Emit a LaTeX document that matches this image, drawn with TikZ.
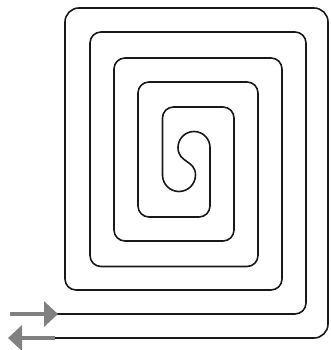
\documentclass[tikz,border=0pt]{standalone}
\usetikzlibrary{arrows.meta}
\definecolor{flowgray}{RGB}{128,128,128}
\tikzset{
  pipe/.style={line width=1.6pt, black!90, line cap=round, line join=round},
  flowarrow/.style={line width=4pt, flowgray, -{Triangle[length=14pt,width=25pt]}}
}
\begin{document}
\begin{tikzpicture}[x=1pt,y=-1pt]
\useasboundingbox (0,0) rectangle (330,350);
% named end points of the spiral
\coordinate (inS) at (10,314);
\coordinate (inE) at (58,314);
\coordinate (outS) at (55,338);
\coordinate (outE) at (8,338);
\coordinate (sA) at (210,147.5);
\coordinate (sB) at (162.5,175);
% double spiral pipe: inflow spiral
\draw[pipe, rounded corners=11pt] (57,314) -- (306,314) -- (306,32) -- (90,32) -- (90,266.5)
  -- (258,266.5) -- (258,82) -- (138,82) -- (138,217) -- (210,217) -- (sA);
% S-shaped turn in the centre
\draw[pipe] (sA)
  .. controls (210,138.66) and (202.84,131.5) .. (194,131.5)
  .. controls (185.16,131.5) and (178,138.66) .. (178,147.5)
  .. controls (178,163) and (195.5,160) .. (195.5,175)
  .. controls (195.5,184.11) and (188.11,191.5) .. (179,191.5)
  .. controls (169.89,191.5) and (162.5,184.11) .. (sB);
% outflow spiral
\draw[pipe, rounded corners=11pt] (sB)
  -- (162.5,107) -- (234,107) -- (234,241) -- (114,241) -- (114,58) -- (282,58)
  -- (282,290) -- (65,290) [rounded corners=14pt] -- (65,8) -- (328,8) -- (328,338) -- (55,338);
% inlet and outlet arrows
\draw[flowarrow] (inS) -- (inE);
\draw[flowarrow] (outS) -- (outE);
\end{tikzpicture}
\end{document}
